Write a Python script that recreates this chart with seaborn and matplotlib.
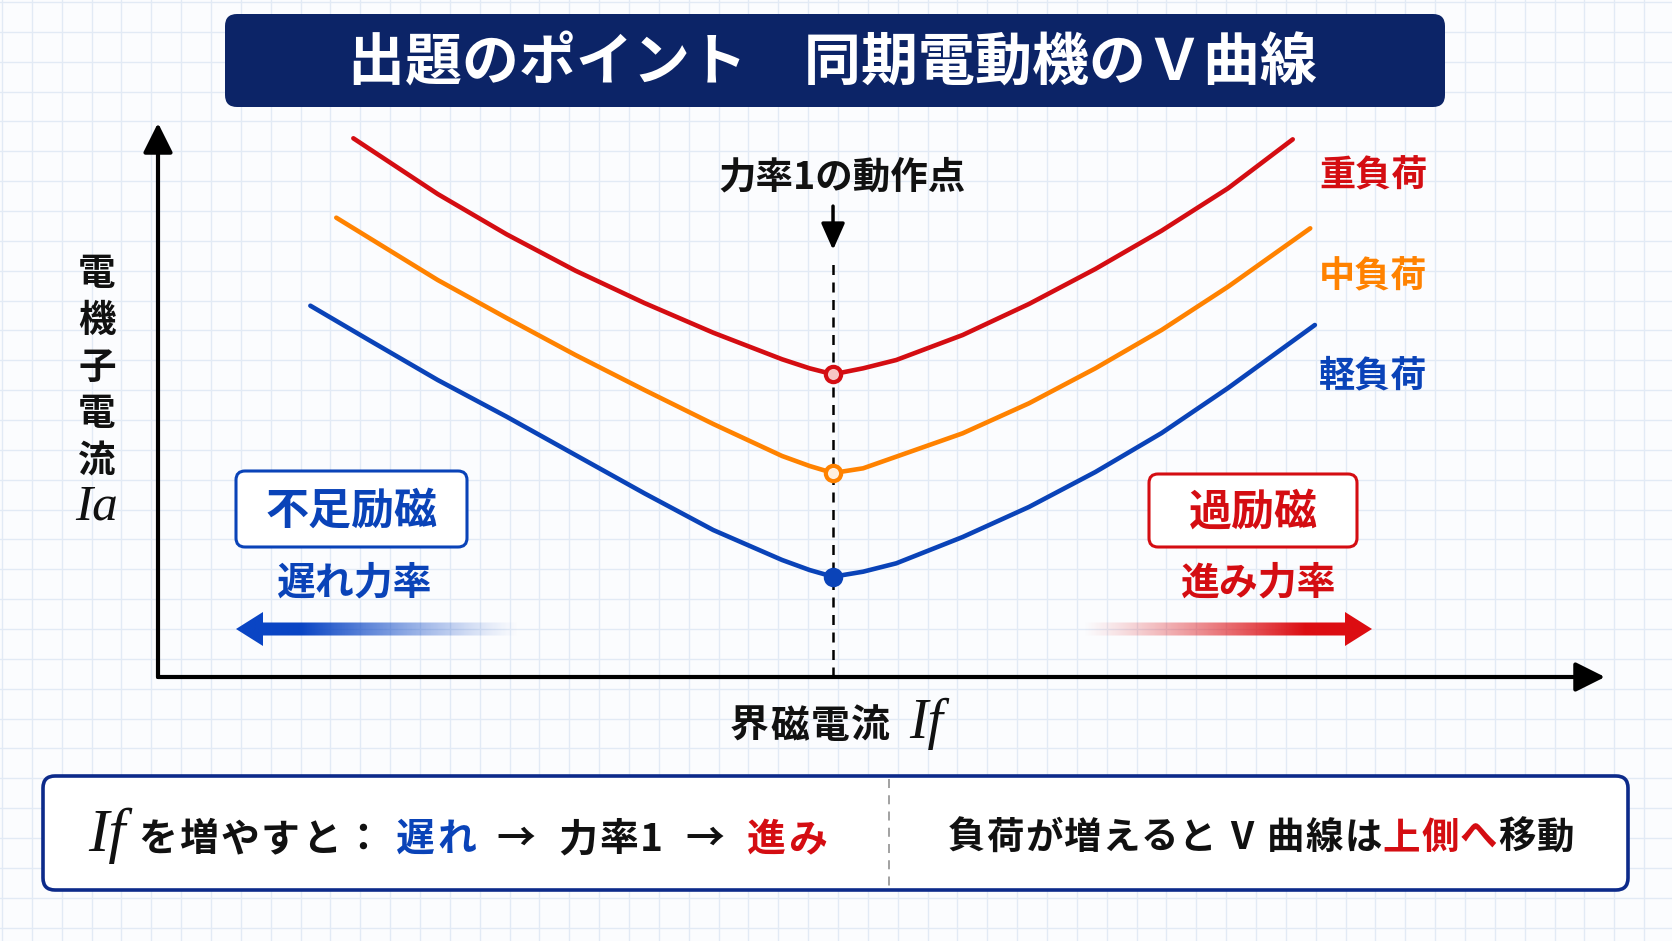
import numpy as np
import pandas as pd
import matplotlib
matplotlib.use("Agg")
import matplotlib.pyplot as plt
import seaborn as sns
from matplotlib.patches import FancyBboxPatch, Polygon

# V curves (If, Ia in arbitrary units)
load_labels = ["重負荷", "中負荷", "軽負荷"]

if_heavy = [1.350, 1.933, 2.409, 2.885, 3.361, 3.837, 4.313, 4.503, 4.665, 4.873, 5.102, 5.561, 6.019, 6.478, 6.936, 7.395, 7.842]
ia_heavy = [9.724, 8.718, 7.991, 7.334, 6.751, 6.215, 5.735, 5.572, 5.464, 5.572, 5.722, 6.173, 6.733, 7.365, 8.056, 8.821, 9.705]

if_mid = [1.232, 1.933, 2.409, 2.885, 3.361, 3.837, 4.313, 4.503, 4.665, 4.873, 5.102, 5.561, 6.019, 6.478, 6.936, 7.395, 7.963]
ia_mid = [8.291, 7.166, 6.480, 5.812, 5.181, 4.567, 3.989, 3.809, 3.682, 3.767, 3.977, 4.399, 4.940, 5.572, 6.264, 7.045, 8.099]

if_light = [1.053, 1.457, 1.933, 2.409, 2.885, 3.361, 3.837, 4.313, 4.503, 4.665, 4.873, 5.102, 5.561, 6.019, 6.478, 6.936, 7.395, 7.995]
ia_light = [6.702, 6.083, 5.361, 4.699, 4.007, 3.316, 2.653, 2.112, 1.931, 1.810, 1.901, 2.052, 2.527, 3.069, 3.700, 4.404, 5.217, 6.354]

unity_pf_if = 4.665

title = "出題のポイント　同期電動機のＶ曲線"

RED = "#d40d12"
ORANGE = "#ff8200"
BLUE = "#0a43b8"
NAVY = "#0c2467"
colors = [RED, ORANGE, BLUE]
marker_faces = ["#f7c6c6", "#fff0e0", BLUE]

sns.set_theme(style="white")
plt.rcParams['font.family'] = ['Noto Sans CJK JP', 'DejaVu Sans']

W, H = 1672, 941
fig = plt.figure(figsize=(W / 100, H / 100), dpi=100)
fig.patch.set_facecolor("#fbfcfe")

# full-figure axes in pixel units for background grid and decorations
deco = fig.add_axes([0, 0, 1, 1], zorder=0)
deco.set_xlim(0, W)
deco.set_ylim(H, 0)
deco.set_axis_off()
step = W / 56
for gx in np.arange(2, W, step):
    deco.axvline(gx, color="#e2eaf5", lw=1.0, zorder=0)
for gy in np.arange(2, H, step):
    deco.axhline(gy, color="#e2eaf5", lw=1.0, zorder=0)

# main chart axes: origin at the axis corner
ax = fig.add_axes([158 / W, (H - 677) / H, (1605 - 158) / W, (677 - 123) / H], zorder=1)
ax.patch.set_alpha(0)
ax.set_xlim(0, 10)
ax.set_ylim(0, 10)
ax.set_axis_off()

frames = []
for lab, xs, ys in zip(load_labels, [if_heavy, if_mid, if_light], [ia_heavy, ia_mid, ia_light]):
    frames.append(pd.DataFrame({"If": xs, "Ia": ys, "load": lab}))
df = pd.concat(frames, ignore_index=True)

ax.axvline(unity_pf_if, ymin=0, ymax=0.745, color="black", lw=1.8, ls=(0, (4, 3)), zorder=1)

sns.lineplot(data=df, x="If", y="Ia", hue="load", hue_order=load_labels,
             palette=colors, linewidth=3.3, legend=False, sort=False,
             estimator=None, ax=ax, zorder=2, solid_capstyle="round", solid_joinstyle="round")

for lab, c, fc in zip(load_labels, colors, marker_faces):
    sub = df[df["load"] == lab]
    row = sub.loc[sub["Ia"].idxmin()]
    ax.plot(row["If"], row["Ia"], "o", ms=11, mfc=fc, mec=c, mew=3, zorder=4)

# axis arrows
arrow_kw = dict(arrowstyle="-|>,head_length=0.9,head_width=0.45", color="black",
                lw=3, mutation_scale=20, shrinkA=0, shrinkB=0)
ax.annotate("", xy=(0, 1), xytext=(0, 0), xycoords="axes fraction", arrowprops=arrow_kw)
ax.annotate("", xy=(1, 0), xytext=(0, 0), xycoords="axes fraction", arrowprops=arrow_kw)

# power factor 1 marker
ax.annotate("", xy=(unity_pf_if, 7.71), xytext=(unity_pf_if, 8.50),
            arrowprops=dict(arrowstyle="-|>,head_length=0.9,head_width=0.4", color="black",
                            lw=2.5, mutation_scale=18, shrinkA=0, shrinkB=0))
ax.text(unity_pf_if + 0.06, 9.03, "力率1の動作点", ha="center", va="center",
        fontsize=27, fontweight="bold", color="#111111")

# curve labels
for lab, c, ly in zip(load_labels, colors, [9.04, 7.22, 5.43]):
    ax.text(8.40, ly, lab, ha="center", va="center", fontsize=26, fontweight="bold", color=c)

# title banner
deco.add_patch(FancyBboxPatch((225, 14), 1220, 93, boxstyle="round,pad=0,rounding_size=12",
                              fc=NAVY, ec="none", zorder=3))
deco.text(832, 64, title, ha="center", va="center", color="white", fontsize=41,
          fontweight="bold", zorder=4)

# y label
deco.text(97, 367, "\n".join("電機子電流"), ha="center", va="center", fontsize=27,
          fontweight="bold", linespacing=1.25, color="#111111", zorder=4)
deco.text(97, 507, "Ia", ha="center", va="center", fontsize=37, fontstyle="italic",
          family="Liberation Serif", color="#111111", zorder=4)


def place_cells(x, y, runs, center=None):
    # runs: numbers are gaps in px, tuples are (text, style, cell width per char)
    objs = []
    x0 = x
    for item in runs:
        if isinstance(item, (int, float)):
            x += item
            continue
        s, kw, pitch = item
        chunks = [s] if kw.get("family") else list(s)
        for ch in chunks:
            objs.append(deco.text(x + pitch / 2, y, ch, ha="center", va="baseline", zorder=4, **kw))
            x += pitch
    if center is not None:
        shift = center - (x0 + x) / 2
        for t in objs:
            t.set_x(t.get_position()[0] + shift)
    return objs


cjk = dict(fontweight="bold", color="#111111")
serif_i = dict(family="Liberation Serif", fontstyle="italic", color="#111111")

# x label
place_cells(729, 738, [("界磁電流", dict(fontsize=28, **cjk), 40.5), 14,
                       ("If", dict(fontsize=40, **serif_i), 42)])

# excitation boxes
deco.add_patch(FancyBboxPatch((236, 471), 231, 76, boxstyle="round,pad=0,rounding_size=9",
                              fc="white", ec=BLUE, lw=2.2, zorder=3))
deco.text(352, 511, "不足励磁", ha="center", va="center", fontsize=31, fontweight="bold",
          color=BLUE, zorder=4)
deco.text(355, 583, "遅れ力率", ha="center", va="center", fontsize=28, fontweight="bold",
          color=BLUE, zorder=4)

deco.add_patch(FancyBboxPatch((1149, 474), 208, 73, boxstyle="round,pad=0,rounding_size=9",
                              fc="white", ec=RED, lw=2.2, zorder=3))
deco.text(1253, 512, "過励磁", ha="center", va="center", fontsize=31, fontweight="bold",
          color=RED, zorder=4)
deco.text(1259, 583, "進み力率", ha="center", va="center", fontsize=28, fontweight="bold",
          color=RED, zorder=4)


def grad_arrow(x_tail, x_tip, y, rgb, head_len=27, head_half=17, shaft_half=6.5):
    d = np.sign(x_tip - x_tail)
    xb = x_tip - d * head_len
    verts = [(x_tail, y - shaft_half), (xb, y - shaft_half), (xb, y - head_half), (x_tip, y),
             (xb, y + head_half), (xb, y + shaft_half), (x_tail, y + shaft_half)]
    poly = Polygon(verts, closed=True, fc="none", ec="none")
    deco.add_patch(poly)
    n = 300
    t = np.linspace(0, 1, n)
    a = t if d > 0 else 1 - t
    a = np.clip(a * 1.3, 0, 1) ** 1.2
    img = np.zeros((1, n, 4))
    img[..., :3] = matplotlib.colors.to_rgb(rgb)
    img[..., 3] = a
    im = deco.imshow(img, extent=(min(x_tail, x_tip), max(x_tail, x_tip), y + head_half, y - head_half),
                     aspect="auto", interpolation="bilinear", zorder=3)
    im.set_clip_path(poly)


grad_arrow(520, 236, 629, "#0a45c4")
grad_arrow(1082, 1372, 629, "#dc0d12")
deco.set_xlim(0, W)
deco.set_ylim(H, 0)

# bottom summary box
deco.add_patch(FancyBboxPatch((43, 776), 1585, 114, boxstyle="round,pad=0,rounding_size=12",
                              fc="white", ec="#0c2a8a", lw=2.6, zorder=3))
deco.plot([889, 889], [779, 887], color="#9a9a9a", lw=1.3, ls=(0, (5, 4)), zorder=4)

fs = 28
p = 41
place_cells(80, 851, [
    ("If", dict(fontsize=44, **serif_i), 54), 3,
    ("を増やすと：", dict(fontsize=fs, **cjk), p), 12,
    ("遅れ", dict(fontsize=fs, fontweight="bold", color=BLUE), p), 20,
    ("→", dict(fontsize=fs, **cjk), 38), 22,
    ("力率", dict(fontsize=fs, **cjk), p), ("1", dict(fontsize=fs, **cjk), 25), 22,
    ("→", dict(fontsize=fs, **cjk), 38), 22,
    ("進み", dict(fontsize=fs, fontweight="bold", color=RED), p),
])

fs2 = 27
p2 = 38.5
place_cells(943, 849, [
    ("負荷が増えると", dict(fontsize=fs2, **cjk), p2), 12,
    ("V", dict(fontsize=fs2, **cjk), 26), 12,
    ("曲線は", dict(fontsize=fs2, **cjk), p2),
    ("上側へ", dict(fontsize=fs2, fontweight="bold", color=RED), p2),
    ("移動", dict(fontsize=fs2, **cjk), p2),
], center=1261)

fig.savefig("out.png", dpi=100, facecolor=fig.get_facecolor())
